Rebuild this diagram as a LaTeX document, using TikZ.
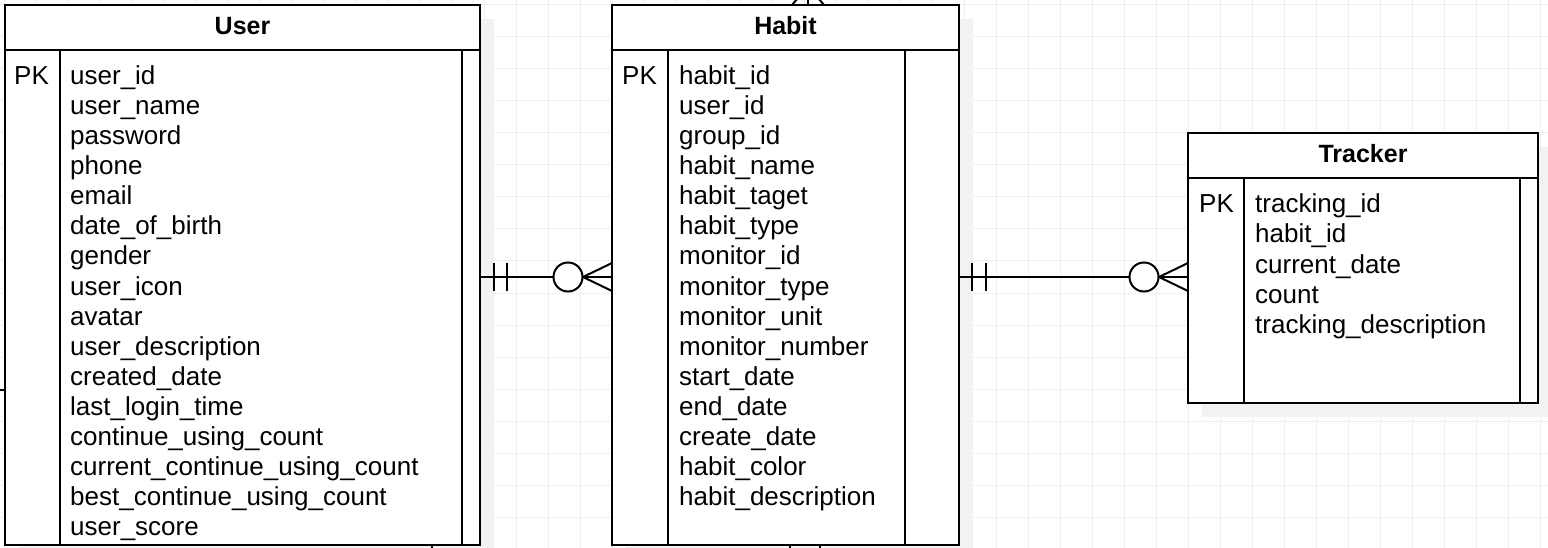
\documentclass[tikz,border=0pt]{standalone}
\usepackage{fontspec}
\setmainfont{Liberation Sans}
\usetikzlibrary{calc}
\definecolor{gridc}{HTML}{F0F0F0}
\definecolor{shadowc}{HTML}{F2F2F2}
\tikzset{
  tbl/.style={draw=black, line width=2pt, fill=white, rectangle, inner sep=0pt, outer sep=0pt, anchor=north west},
  ln/.style={draw=black, line width=2pt},
  conn/.style={draw=black, line width=2pt},
  fld/.style={anchor=base west, inner sep=0pt, font=\fontsize{26}{30}\selectfont},
  hdr/.style={anchor=base, inner sep=0pt, font=\fontsize{25}{30}\selectfont\bfseries},
}
\begin{document}
\begin{tikzpicture}[x=1pt,y=-1pt]
\useasboundingbox (0,0) rectangle (1548,548);
\clip (0,0) rectangle (1548,548);
\fill[white] (0,0) rectangle (1548,548);
% grid
\foreach \k in {0,...,48} \draw[gridc, line width=1pt] (4+32*\k,0) -- (4+32*\k,548);
\foreach \k in {0,...,17} \draw[gridc, line width=1pt] (0,5+32*\k) -- (1548,5+32*\k);
% shadows
\fill[shadowc] (19,19) rectangle (494,560);
\fill[shadowc] (626,19) rectangle (973,560);
\fill[shadowc] (1202,147) rectangle (1552,417);
% tables
\node[tbl, minimum width=475pt, minimum height=540pt] (user) at (5,5) {};
\node[tbl, minimum width=347pt, minimum height=540pt] (habit) at (612,5) {};
\node[tbl, minimum width=350pt, minimum height=270pt] (tracker) at (1188,133) {};
% internal lines
\foreach \t/\pk/\rd in {user/55/18, habit/56/54, tracker/56/18}{
  \draw[ln] ($(\t.north west)+(0,45)$) -- ($(\t.north east)+(0,45)$);
  \draw[ln] ($(\t.north west)+(\pk,45)$) -- ($(\t.south west)+(\pk,0)$);
  \draw[ln] ($(\t.north east)+(-\rd,45)$) -- ($(\t.south east)+(-\rd,0)$);
}
% headers
\node[hdr] (userh) at ($(user.north)+(0,29.5)$) {User};
\node[hdr] (habith) at ($(habit.north)+(0,29.5)$) {Habit};
\node[hdr] (trackerh) at ($(tracker.north)+(0,29.5)$) {Tracker};
% PK labels
\node[fld] (upk) at (14,85) {PK};
\node[fld] (hpk) at (622,85) {PK};
\node[fld] (tpk) at (1199,213) {PK};
% fields
\foreach \f [count=\i from 0] in {user\_id,user\_name,password,phone,email,date\_of\_birth,gender,user\_icon,avatar,user\_description,created\_date,last\_login\_time,continue\_using\_count,current\_continue\_using\_count,best\_continue\_using\_count,user\_score}
  \node[fld] (u\i) at (70,85+30*\i) {\f};
\foreach \f [count=\i from 0] in {habit\_id,user\_id,group\_id,habit\_name,habit\_taget,habit\_type,monitor\_id,monitor\_type,monitor\_unit,monitor\_number,start\_date,end\_date,create\_date,habit\_color,habit\_description}
  \node[fld] (h\i) at (679,85+30*\i) {\f};
\foreach \f [count=\i from 0] in {tracking\_id,habit\_id,current\_date,count,tracking\_description}
  \node[fld] (t\i) at (1255,213+30*\i) {\f};
% connector User - Habit
\draw[conn] ([yshift=-2pt]user.east) coordinate (a1) -- ([yshift=-2pt]user.east -| habit.west) coordinate (a2);
\draw[conn] ($(a1)+(14,-14)$) -- ($(a1)+(14,14)$);
\draw[conn] ($(a1)+(27,-14)$) -- ($(a1)+(27,14)$);
\draw[conn, fill=white] ($(a2)+(-44,0)$) circle[radius=14.5pt];
\draw[conn] ($(a2)+(-29,0)$) -- ($(a2)+(0,-14)$);
\draw[conn] ($(a2)+(-29,0)$) -- ($(a2)+(0,14)$);
% connector Habit - Tracker
\draw[conn] ([yshift=-2pt]habit.east) coordinate (b1) -- ([yshift=-2pt]habit.east -| tracker.west) coordinate (b2);
\draw[conn] ($(b1)+(13,-14)$) -- ($(b1)+(13,14)$);
\draw[conn] ($(b1)+(27,-14)$) -- ($(b1)+(27,14)$);
\draw[conn, fill=white] ($(b2)+(-44,0)$) circle[radius=14.5pt];
\draw[conn] ($(b2)+(-29,0)$) -- ($(b2)+(0,-14)$);
\draw[conn] ($(b2)+(-29,0)$) -- ($(b2)+(0,14)$);
% off-picture connectors
\coordinate (ub) at (432,570);
\draw[conn] (user.south -| ub) -- (ub);
\coordinate (ul) at (-20,390);
\draw[conn] (ul) -- (ul -| user.west);
\coordinate (ht) at (808,-14);
\draw[conn] (ht) -- (ht |- habit.north);
\draw[conn] (ht) -- ($(ht |- habit.north)+(-16,0)$);
\draw[conn] (ht) -- ($(ht |- habit.north)+(16,0)$);
\coordinate (hb1) at (790,570);
\coordinate (hb2) at (820,570);
\draw[conn] (habit.south -| hb1) -- (hb1);
\draw[conn] (habit.south -| hb2) -- (hb2);
\end{tikzpicture}
\end{document}
